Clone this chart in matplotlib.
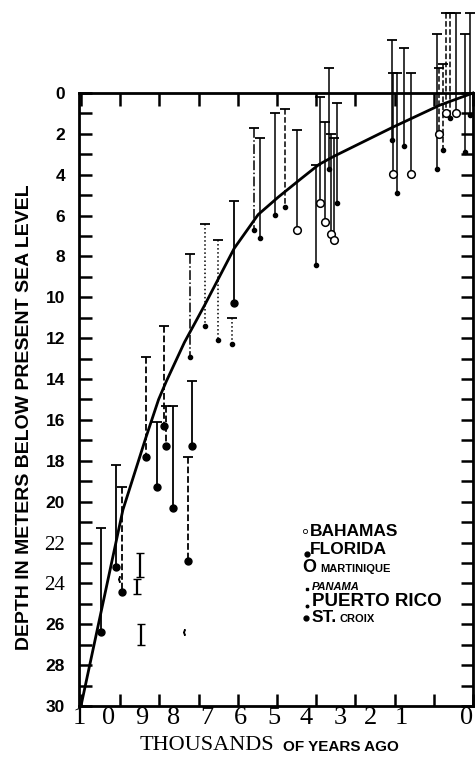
import numpy as np
import matplotlib
matplotlib.use("Agg")
from matplotlib import pyplot as plt

# sea level curve (thousands of years ago, depth m)
curve_age = [10.0, 8.93, 8.35, 8.02, 7.82, 7.36, 6.85, 6.09, 5.48, 4.97, 4.39, 3.93, 3.55, 2.03, 0.84, 0.0]
curve_depth = [30.0, 20.4, 16.9, 15.0, 14.1, 12.2, 10.4, 7.6, 5.95, 5.1, 4.2, 3.5, 3.1, 1.66, 0.59, 0.0]

# big filled dots
big_age = [9.49, 9.11, 8.96, 8.35, 8.07, 7.87, 7.82, 7.64, 7.28, 7.18, 6.09]
big_depth = [26.4, 23.2, 24.4, 17.8, 19.3, 16.3, 17.3, 20.3, 22.9, 17.3, 10.3]
big_top = [21.3, 18.2, 19.3, 12.9, 16.1, 11.4, 15.3, 15.3, 17.8, 14.1, 5.3]
big_ls = ['-', '-', '--', '--', '-', '--', '--', '-', '--', '-', '-']

# small dots
small_age = [7.23, 6.83, 6.50, 6.14, 5.58, 5.43, 5.05, 4.80, 4.01, 3.68, 3.48,
             2.06, 1.93, 1.75, 0.91, 0.76, 0.58, 0.20, 0.08]
small_depth = [12.9, 11.4, 12.1, 12.3, 6.7, 7.1, 5.95, 5.6, 8.4, 3.7, 5.4,
               2.3, 4.9, 2.6, 3.7, 2.8, 1.2, 2.9, 1.1]
small_top = [7.9, 6.4, 7.2, 11.0, 1.7, 2.2, 1.0, 0.8, 3.5, -1.2, 0.5,
             -2.6, -1.0, -2.2, -2.9, -1.4, -3.9, -2.9, -3.9]
small_ls = ['-.', ':', ':', ':', '-.', '-', '-', '--', '-', '-', '-',
            '-', '-', '-', '-', '--', '--', '-', '-']

# open circles (Martinique)
open_age = [4.49, 3.91, 3.77, 3.63, 3.55, 2.03, 1.57, 0.86, 0.69, 0.43]
open_depth = [6.7, 5.4, 6.3, 6.9, 7.2, 3.95, 3.95, 2.0, 1.0, 1.0]
open_top = [1.8, 0.2, 1.4, 2.0, 2.2, -1.0, -1.0, -1.2, -3.9, -3.9]
open_ls = ['-', '-', '-', '-', '-', '-', '-', '--', '--', '-']

# bars without markers
bar_age = [8.50, 8.58, 8.48]
bar_low = [23.7, 24.5, 27.0]
bar_high = [22.5, 23.8, 26.0]

# tiny marks
tiny_age = [9.04, 7.36]
tiny_depth = [23.8, 26.4]

ytick_vals = list(range(0, 31, 2))
xlabel_pos = [10.05, 9.29, 8.45, 7.63, 6.79, 5.93, 5.09, 4.27, 3.38, 2.62, 1.83, 0.16]
xlabel_txt = ['1', '0', '9', '8', '7', '6', '5', '4', '3', '2', '1', '0']

legend_names = ['BAHAMAS', 'FLORIDA', 'MARTINIQUE', 'PANAMA', 'PUERTO RICO', 'CROIX']

fig = plt.figure(figsize=(4.75, 7.62), dpi=100)
ax = fig.add_axes([79/475, 1-706/762, 394/475, 613/762])
ax.set_xlim(10, 0)
ax.set_ylim(30, 0)

def draw_bars(age, depth, top, ls, lw=1.1):
    ax.vlines(age, top, depth, colors='black', linestyles=ls, linewidth=lw, clip_on=False)
    ax.plot(age, top, ls='none', marker='_', ms=7, mew=1.3, color='black', clip_on=False)

draw_bars(big_age, big_depth, big_top, big_ls, lw=1.3)
draw_bars(small_age, small_depth, small_top, small_ls)
draw_bars(open_age, open_depth, open_top, open_ls)
ax.plot(big_age, big_depth, 'o', color='black', ms=5, clip_on=False)
ax.plot(small_age, small_depth, 'o', color='black', ms=3, clip_on=False)
ax.plot(open_age, open_depth, 'o', mfc='white', mec='black', mew=1.1, ms=5.5, clip_on=False)

ax.vlines(bar_age, bar_high, bar_low, colors='black', linewidth=1.6)
ax.plot(bar_age + bar_age, bar_high + bar_low, ls='none', marker='_', ms=6, mew=1.0, color='black')
ax.plot(tiny_age, tiny_depth, ls='none', marker='$\\langle$', ms=4, color='black')

ax.plot(curve_age, curve_depth, color='black', lw=2.0, clip_on=False)

for s in ax.spines.values():
    s.set_linewidth(2.0)

ax.set_yticks(ytick_vals)
ax.set_yticks(range(0, 31), minor=True)
ax.set_yticklabels([str(v) for v in ytick_vals], fontsize=12.5, fontweight='bold',
                   family='Liberation Sans')
for lab in ax.get_yticklabels():
    if lab.get_text() in ('22', '24'):
        lab.set_family('Liberation Serif')
        lab.set_fontweight('normal')
        lab.set_fontsize(15)
ax.tick_params(axis='y', which='both', direction='in', length=9, width=1.8,
               left=True, right=True, pad=10)
ax.xaxis.remove_overlapping_locs = False
ax.set_xticks(range(0, 11))
ax.set_xticklabels([])
ax.tick_params(axis='x', which='major', direction='in', length=9, width=1.8,
               top=True, bottom=True)
ax.set_xticks(xlabel_pos, minor=True)
ax.set_xticklabels(xlabel_txt, minor=True, fontsize=19, family='Liberation Serif')
ax.tick_params(axis='x', which='minor', length=0, pad=1)

fig.text(0.052, 1-417/762, 'DEPTH IN METERS BELOW PRESENT SEA LEVEL', rotation=90,
         ha='center', va='center', fontsize=14, fontweight='bold', family='Liberation Sans')
fig.text(140/475, 1-745/762, 'THOUSANDS', ha='left', va='center', fontsize=16,
         family='Liberation Serif')
fig.text(283/475, 1-747/762, 'OF YEARS AGO', ha='left', va='center', fontsize=11,
         fontweight='bold', family='Liberation Sans')

# legend
lx = (310 - 79) / 394
def ly(py):
    return 1 - (py - 93) / 613
t = dict(transform=ax.transAxes, va='center', ha='left', family='Liberation Sans', fontweight='bold')
ax.plot([lx - 0.012], [ly(531)], 'o', mfc='white', mec='black', ms=3, mew=0.6, transform=ax.transAxes)
ax.text(lx, ly(532), legend_names[0], fontsize=12.5, **t)
ax.plot([lx - 0.008], [ly(554)], 'o', color='black', ms=3.5, transform=ax.transAxes)
ax.text(lx, ly(550), legend_names[1], fontsize=12.5, **t)
ax.text(lx - 0.02, ly(568), 'O', fontsize=13, **t)
ax.text(lx + 0.026, ly(569), legend_names[2], fontsize=8, **t)
ax.plot([lx - 0.008], [ly(589)], 's', color='black', ms=1.6, transform=ax.transAxes)
ax.text(lx + 0.004, ly(587), legend_names[3], fontsize=8, style='italic', **t)
ax.plot([lx - 0.008], [ly(606)], 'o', color='black', ms=1.8, transform=ax.transAxes)
ax.text(lx + 0.004, ly(602), legend_names[4], fontsize=13.5, **t)
ax.plot([lx - 0.010], [ly(618)], 'o', color='black', ms=3.5, transform=ax.transAxes)
ax.text(lx + 0.004, ly(618), 'ST.', fontsize=12.5, **t)
ax.text(lx + 0.076, ly(619), legend_names[5], fontsize=8, **t)

fig.savefig('out.png', dpi=100)
